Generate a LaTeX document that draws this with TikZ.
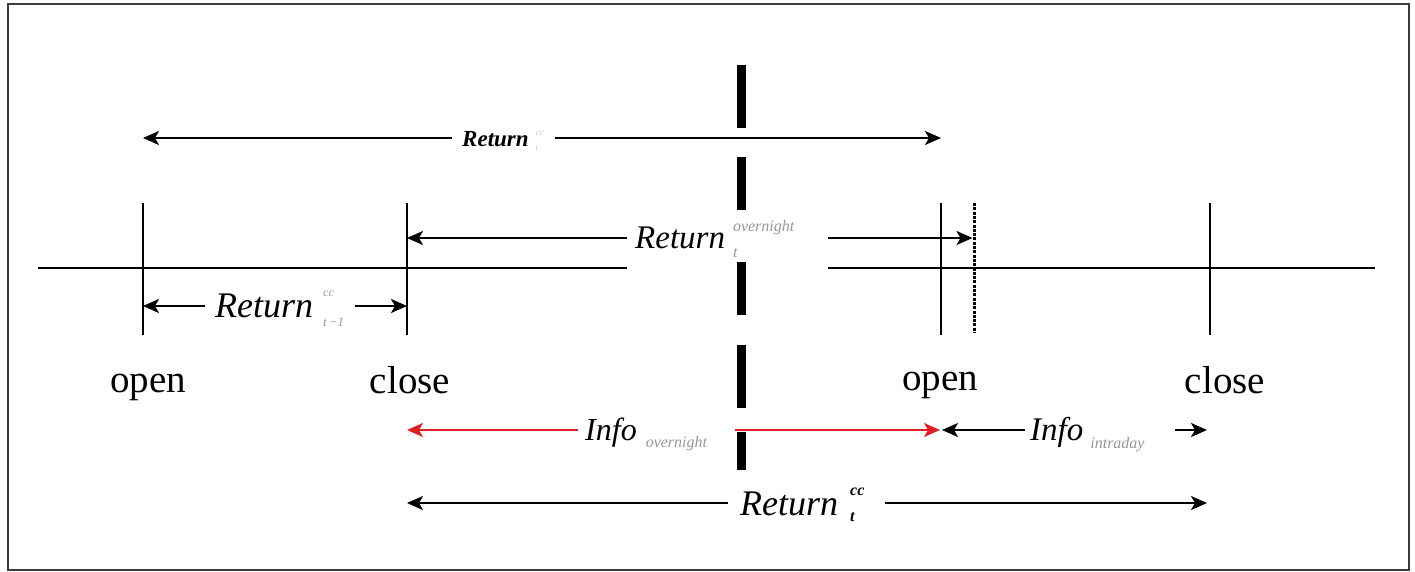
\documentclass[tikz,border=0pt]{standalone}
\usepackage{fontspec}
\setmainfont{Liberation Serif}
\usetikzlibrary{arrows.meta}
\definecolor{framegray}{RGB}{60,60,60}
\definecolor{scriptgray}{RGB}{150,150,150}
\definecolor{faintgray}{RGB}{200,200,200}
\definecolor{infored}{RGB}{222,32,40}
% stacked superscript/subscript: #1 sup, #2 raise, #3 sub, #4 drop
\newcommand{\supsub}[4]{%
  \begingroup
  \setbox0=\hbox{#1}\setbox2=\hbox{#3}%
  \raisebox{#2}{\copy0}\kern-\wd0\raisebox{-#4}{\copy2}%
  \ifdim\wd0>\wd2 \kern\dimexpr\wd0-\wd2\relax\fi
  \endgroup}
\newcommand{\fs}[1]{\fontsize{#1}{#1}\selectfont}
\begin{document}
\begin{tikzpicture}[x=1pt,y=-1pt,
  tick/.style={line width=1.8pt},
  axis/.style={line width=1.8pt},
  tip/.tip={Stealth[length=16pt,width=14pt,inset=4pt]},
  arr/.style={line width=1.8pt,tip-tip},
  redarr/.style={line width=1.8pt,tip-tip,draw=infored,color=infored},
  mask/.style={draw=none,fill=white,inner sep=0pt,rectangle},
  lbl/.style={inner sep=0pt,anchor=base west},
  word/.style={inner sep=0pt,anchor=base,font=\fs{39}},
  sep/.style={line width=9pt}]
\useasboundingbox (0,0) rectangle (1415,572);
\draw[line width=2pt,framegray] (8,4) rectangle (1409,570);

% positions of the session marks on the time axis
\coordinate (O1) at (143,268);
\coordinate (C1) at (407,268);
\coordinate (O2) at (941,268);
\coordinate (D)  at (974,268);
\coordinate (C2) at (1210,268);
\coordinate (AL) at (38,268);
\coordinate (AR) at (1375,268);

% time axis and marks
\draw[axis] (AL) -- (AR);
\draw[tick] (O1 |- 0,203) -- (O1 |- 0,335);
\draw[tick] (C1 |- 0,203) -- (C1 |- 0,335);
\draw[tick] (O2 |- 0,203) -- (O2 |- 0,335);
\draw[tick] (C2 |- 0,203) -- (C2 |- 0,335);
\draw[line width=3pt,dash pattern=on 3pt off 1.3pt] (D |- 0,203) -- (D |- 0,333);

% spans
\draw[arr] (O1 |- 0,138) -- (O2 |- 0,138);
\draw[arr] (C1 |- 0,238) -- ([xshift=-1.5pt]D |- 0,238);
\draw[arr] (O1 |- 0,306) -- (C1 |- 0,306);
\draw[redarr] (C1 |- 0,430) -- ([xshift=-1pt]O2 |- 0,430);
\draw[arr] ([xshift=1pt]O2 |- 0,430) -- ([xshift=-3pt]C2 |- 0,430);
\draw[arr] (C1 |- 0,503) -- ([xshift=-3pt]C2 |- 0,503);

% white grounds behind the span labels
\node[mask,minimum width=103pt,minimum height=28pt] (mTop)  at (503.5,138) {};
\node[mask,minimum width=201pt,minimum height=63pt] (mOver) at (727.5,239.5) {};
\node[mask,minimum width=150pt,minimum height=36pt] (mPrev) at (280,306) {};
\node[mask,minimum width=157pt,minimum height=36pt] (mInfoO) at (656.5,430) {};
\node[mask,minimum width=150pt,minimum height=36pt] (mInfoI) at (1100,430) {};
\node[mask,minimum width=157pt,minimum height=64pt] (mRet)  at (806.5,502) {};

% the day boundary
\draw[sep] (741,65) -- (741,128);
\draw[sep] (741,157) -- (741,210);
\draw[sep] (741,262) -- (741,315);
\draw[sep] (741,345) -- (741,408);
\draw[sep] (741,432) -- (741,470);

% labels
\node[lbl] (tTop) at (462,147) {{\fs{23}\bfseries\itshape Return}\hspace{7pt}%
  \supsub{\color{faintgray}\fs{9}\itshape cc}{11pt}{\color{faintgray}\fs{9}\itshape t}{4pt}};
\node[lbl] (tOver) at (635,248) {{\fs{33}\itshape Return}\hspace{8pt}%
  \supsub{\color{scriptgray}\fs{16}\itshape overnight}{17pt}{\color{scriptgray}\fs{16}\itshape t}{9pt}};
\node[lbl] (tPrev) at (215,317) {{\fs{36}\itshape Return}\hspace{10pt}%
  \supsub{\color{scriptgray}\fs{12}\itshape cc}{21pt}{\color{scriptgray}\fs{13}\itshape t\,−1}{9pt}};
\node[lbl] (tInfoO) at (585,440) {{\fs{32}\itshape Info}\hspace{9pt}%
  \raisebox{-7pt}{\color{scriptgray}\fs{16}\itshape overnight}};
\node[lbl] (tInfoI) at (1030,440) {{\fs{33}\itshape Info}\hspace{7pt}%
  \raisebox{-8pt}{\color{scriptgray}\fs{16}\itshape intraday}};
\node[lbl] (tRet) at (740,515) {{\fs{36}\itshape Return}\hspace{12pt}%
  \supsub{\fs{16}\bfseries\itshape cc}{20pt}{\fs{16}\bfseries\itshape t}{6pt}};

% session names
\node[word] (wO1) at (148,392) {open};
\node[word] (wC1) at (410,393) {close};
\node[word] (wO2) at (940,390) {open};
\node[word] (wC2) at (1225,393) {close};
\end{tikzpicture}
\end{document}
